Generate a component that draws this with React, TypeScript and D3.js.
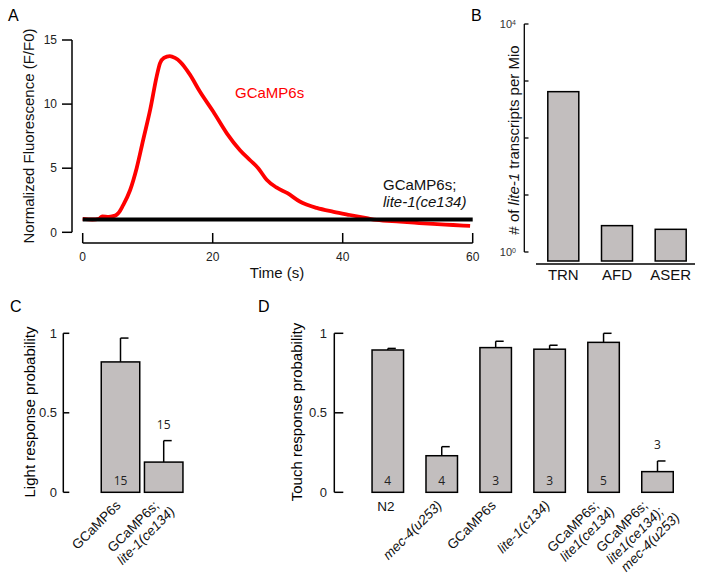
import React from "react";
import * as d3 from "d3";

// ---------- Panel A data ----------
const timeS = [0, 1.5, 2.5, 3, 4, 5, 5.5, 6.2, 7.3, 8.3, 9.3, 10.4, 11.4, 11.9, 12.5, 13.4, 14.2, 15.0, 16.5, 18.0, 20.1, 22.2, 24.2, 25.8, 27.0, 28.3, 29.8, 31.5, 33.4, 36, 38.6, 41.1, 43.7, 45.2, 48.8, 51, 53.9, 57, 59.6];
const gcampF = [1.04, 1.0, 1.05, 1.25, 1.2, 1.3, 1.5, 2.1, 3.3, 5.0, 7.2, 9.6, 12.2, 13.2, 13.6, 13.75, 13.6, 13.3, 12.3, 11.0, 9.4, 7.7, 6.4, 5.6, 5.0, 4.1, 3.5, 3.05, 2.4, 1.9, 1.6, 1.35, 1.1, 0.96, 0.83, 0.75, 0.65, 0.57, 0.5];
const controlTime = [0, 60];
const controlF = [1, 1];
const aXTicks = [0, 20, 40, 60];
const aYTicks = [0, 5, 10, 15];

// ---------- Panel B data ----------
const bCells = ["TRN", "AFD", "ASER"];
const bValues = [650, 2.9, 2.5];
const bTicks = [1, 10, 100, 1000, 10000];

// ---------- Panel C data ----------
const cGroups = ["GCaMP6s", "GCaMP6s; lite-1(ce134)"];
const cValues = [0.82, 0.19];
const cErrors = [0.15, 0.135];
const cN = [15, 15];

// ---------- Panel D data ----------
const dGroups = ["N2", "mec-4(u253)", "GCaMP6s", "lite-1(c134)", "GCaMP6s; lite1(ce134)", "GCaMP6s; lite1(ce134); mec-4(u253)"];
const dValues = [0.895, 0.23, 0.91, 0.9, 0.943, 0.13];
const dErrors = [0.01, 0.057, 0.04, 0.025, 0.057, 0.067];
const dN = [4, 4, 3, 3, 5, 3];
const probTicks = [0, 0.5, 1];

const FONT = "'Liberation Sans', Arial, Helvetica, sans-serif";
const NFONT = "'Open Sans', 'Noto Sans', sans-serif";
const BAR_FILL = "#c2bebe";

function splitLines(g: string): string[] {
  const parts = g.split("; ");
  return parts.map((p, i) => (i < parts.length - 1 ? p + ";" : p));
}
const isItalic = (s: string) => !/^(GCaMP6s|N2)/.test(s);

function RotLabel({ cx, y, text }: { cx: number; y: number; text: string }) {
  const lines = splitLines(text);
  const n = lines.length;
  return (
    <text
      transform={`translate(${cx + 1 - 5 * (n - 1)},${y}) rotate(-45)`}
      textAnchor="end"
      fontSize={13.5}
      fontFamily={FONT}
      fill="#111"
    >
      {lines.map((l, i) => (
        <tspan key={i} x={7 * i} y={15.5 * i} fontStyle={isItalic(l) ? "italic" : "normal"}>
          {l}
        </tspan>
      ))}
    </text>
  );
}

function ProbPanel({
  groups, values, errors, ns, xRange, barW, axisX, tickLen, labelX, yTitle, titleX, letter, letterX,
}: any) {
  const y = d3.scaleLinear().domain([0, 1]).range([492.3, 333.3]);
  const x = d3.scalePoint<string>().domain(groups).range(xRange);
  return (
    <g>
      <text x={letterX} y={312} fontSize={16} fontFamily={FONT}>{letter}</text>
      <text
        transform={`translate(${titleX},${412}) rotate(-90)`}
        textAnchor="middle"
        dy="0.35em"
        fontSize={15}
        fontFamily={FONT}
      >
        {yTitle}
      </text>
      <line x1={axisX} x2={axisX} y1={y(1)} y2={y(0)} stroke="#000" strokeWidth={1.5} />
      {probTicks.map((t) => (
        <g key={t}>
          <line x1={axisX} x2={axisX + tickLen} y1={y(t)} y2={y(t)} stroke="#000" strokeWidth={1.5} />
          <text x={labelX} y={y(t)} dy="0.35em" textAnchor="end" fontSize={13} fontFamily={FONT} fill="#222">
            {t}
          </text>
        </g>
      ))}
      {groups.map((g: string, i: number) => {
        const cx = x(g) as number;
        const v = values[i];
        const e = errors[i];
        const inside = v > 0.2;
        return (
          <g key={g}>
            <line x1={cx} x2={cx} y1={y(v)} y2={y(v + e)} stroke="#000" strokeWidth={1.5} />
            <line x1={cx} x2={cx + 8} y1={y(v + e)} y2={y(v + e)} stroke="#000" strokeWidth={1.5} />
            <rect
              x={cx - barW / 2}
              y={y(v)}
              width={barW}
              height={y(0) - y(v)}
              fill={BAR_FILL}
              stroke="#000"
              strokeWidth={1.5}
            />
            <text
              x={cx}
              y={inside ? y(0) - 12 : y(v + e) - 16}
              dy="0.35em"
              textAnchor="middle"
              fontSize={12}
              fontFamily={NFONT}
              fill="#222"
            >
              {ns[i]}
            </text>
            {g === "N2" ? (
              <text x={cx - 2} y={y(0) + 19} textAnchor="middle" fontSize={13.5} fontFamily={FONT} fill="#111">
                {g}
              </text>
            ) : (
              <RotLabel cx={cx} y={y(0) + 14} text={g} />
            )}
          </g>
        );
      })}
    </g>
  );
}

export default function App() {
  // Panel A scales
  const xA = d3.scaleLinear().domain([0, 60]).range([82.7, 472.7]);
  const yA = d3.scaleLinear().domain([0, 15]).range([232.3, 40]);
  const lineA = d3
    .line<number>()
    .x((_, i) => xA(timeS[i]))
    .y((d) => yA(d))
    .curve(d3.curveMonotoneX);
  const lineCtl = d3
    .line<number>()
    .x((_, i) => xA(controlTime[i]))
    .y((d) => yA(d));

  // Panel B scales
  const yB = d3.scaleLog().domain([1, 10000]).range([252, 24]);
  const xB = d3.scalePoint<string>().domain(bCells).range([563.3, 670.7]);
  const bBase = yB(1) + 9;
  const bW = 31;

  return (
    <svg
      width={704}
      height={580}
      style={{ position: "absolute", left: 0, top: 0, background: "#fff" }}
      fontFamily={FONT}
    >
      <rect width={704} height={580} fill="#fff" />
      {/* ---------- Panel A ---------- */}
      <text x={8} y={21} fontSize={16}>A</text>
      <text
        transform="translate(29,136) rotate(-90)"
        textAnchor="middle"
        dy="0.35em"
        fontSize={15}
        fill="#111"
      >
        Normalized Fluorescence (F/F0)
      </text>
      <line x1={72} x2={72} y1={yA(15)} y2={yA(0)} stroke="#000" strokeWidth={1.5} />
      {aYTicks.map((t) => (
        <g key={t}>
          <line x1={62} x2={72} y1={yA(t)} y2={yA(t)} stroke="#000" strokeWidth={1.5} />
          <text x={57} y={yA(t)} dy="0.35em" textAnchor="end" fontSize={12} fill="#222">{t}</text>
        </g>
      ))}
      <line x1={xA(0)} x2={xA(60)} y1={243} y2={243} stroke="#000" strokeWidth={1.5} />
      {aXTicks.map((t) => (
        <g key={t}>
          <line x1={xA(t)} x2={xA(t)} y1={233} y2={243} stroke="#000" strokeWidth={1.5} />
          <text x={xA(t)} y={261} textAnchor="middle" fontSize={12} fill="#222">{t}</text>
        </g>
      ))}
      <text x={277} y={278} textAnchor="middle" fontSize={15} fill="#111">Time (s)</text>
      <path d={lineA(gcampF) || ""} fill="none" stroke="#f00" strokeWidth={3.8} strokeLinejoin="round" />
      <path d={lineCtl(controlF) || ""} fill="none" stroke="#000" strokeWidth={4} />
      <text x={235} y={98} fontSize={15} fill="#f00">GCaMP6s</text>
      <text x={383} y={190} fontSize={15} fill="#111">GCaMP6s;</text>
      <text x={383} y={207} fontSize={15} fontStyle="italic" fill="#111">lite-1(ce134)</text>

      {/* ---------- Panel B ---------- */}
      <text x={471} y={21} fontSize={16}>B</text>
      <text
        transform="translate(514,140) rotate(-90)"
        textAnchor="middle"
        dy="0.35em"
        fontSize={15}
        fill="#111"
      >
        # of <tspan fontStyle="italic">lite-1</tspan> transcripts per Mio
      </text>
      <line x1={524.3} x2={524.3} y1={yB(10000)} y2={yB(1)} stroke="#000" strokeWidth={1.3} />
      {bTicks.map((t) => (
        <line key={t} x1={524.3} x2={528.5} y1={yB(t)} y2={yB(t)} stroke="#000" strokeWidth={1.3} />
      ))}
      {[10000, 1].map((t) => (
        <text key={t} x={516} y={yB(t)} dy="0.35em" textAnchor="end" fontSize={11} fill="#333">
          10
          <tspan dy="-0.45em" fontSize={7}>{Math.round(Math.log10(t))}</tspan>
        </text>
      ))}
      {bCells.map((c, i) => {
        const cx = xB(c) as number;
        return (
          <g key={c}>
            <rect
              x={cx - bW / 2}
              y={yB(bValues[i])}
              width={bW}
              height={bBase - yB(bValues[i])}
              fill={BAR_FILL}
              stroke="#000"
              strokeWidth={1.5}
            />
            <text x={cx} y={280} textAnchor="middle" fontSize={15} fill="#111">{c}</text>
          </g>
        );
      })}
      <line x1={536} x2={695} y1={264} y2={264} stroke="#000" strokeWidth={1.5} />

      {/* ---------- Panel C ---------- */}
      <ProbPanel
        groups={cGroups}
        values={cValues}
        errors={cErrors}
        ns={cN}
        xRange={[120.5, 163.7]}
        barW={38.5}
        axisX={63.3}
        tickLen={6}
        labelX={57}
        yTitle="Light response probability"
        titleX={30}
        letter="C"
        letterX={10}
      />

      {/* ---------- Panel D ---------- */}
      <ProbPanel
        groups={dGroups}
        values={dValues}
        errors={dErrors}
        ns={dN}
        xRange={[387.8, 657.5]}
        barW={31.5}
        axisX={334.3}
        tickLen={9}
        labelX={327}
        yTitle="Touch response probability"
        titleX={297}
        letter="D"
        letterX={258}
      />
    </svg>
  );
}
